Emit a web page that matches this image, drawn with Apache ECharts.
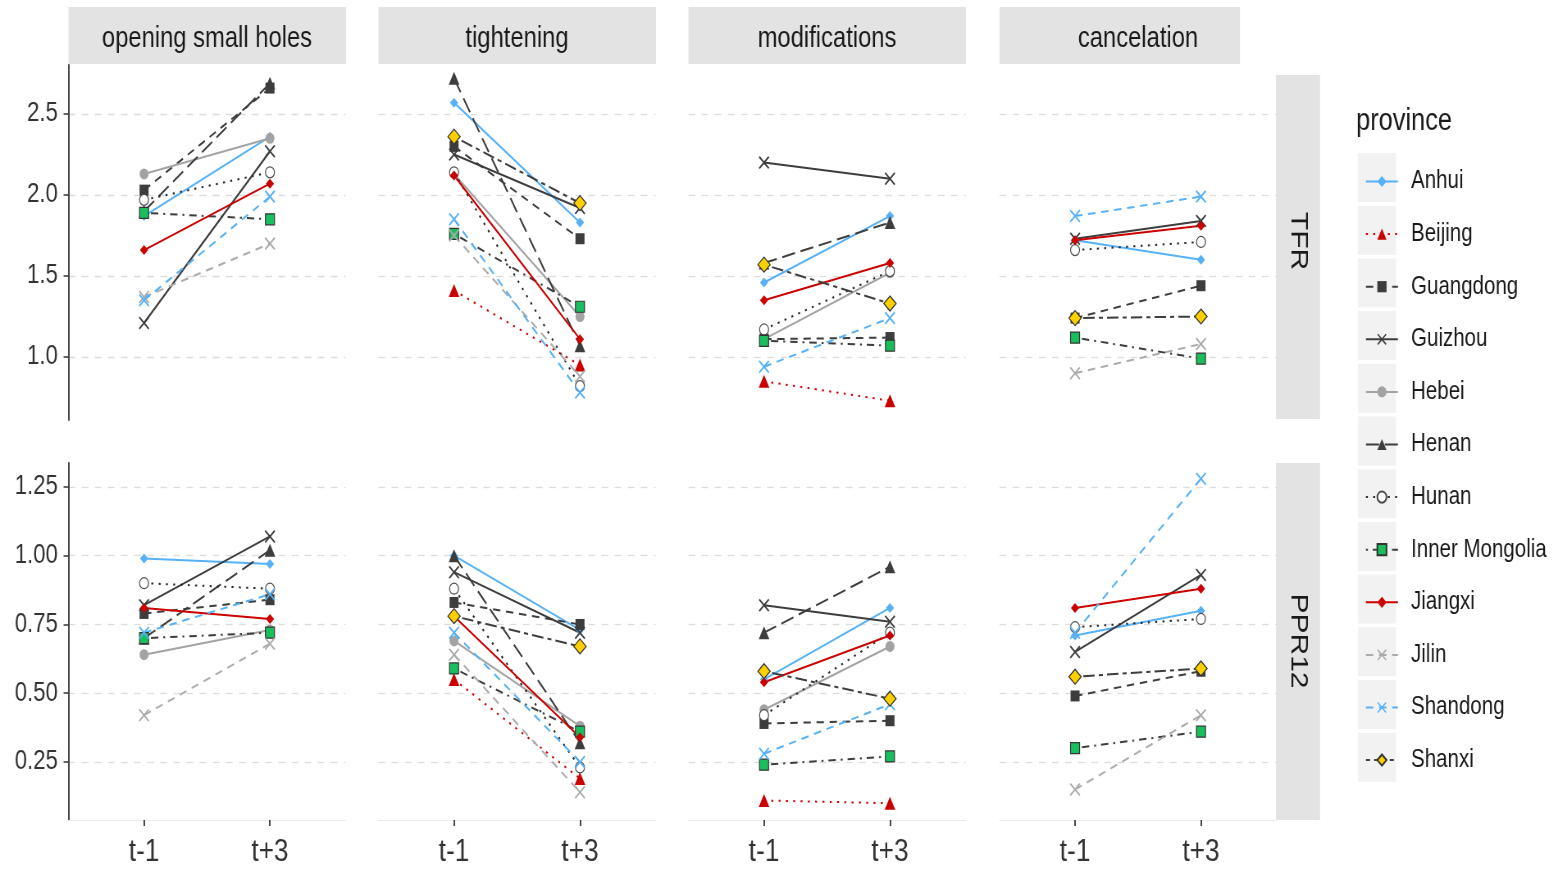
<!DOCTYPE html>
<html>
<head>
<meta charset="utf-8">
<script src="https://cdn.jsdelivr.net/npm/echarts@6/dist/echarts.min.js"></script>
<style>
  html, body { margin: 0; padding: 0; background: #ffffff; overflow: hidden; width: 1557px; height: 871px; }
  /* the figure is laid out wide and set in a horizontally condensed frame */
  #chart { height: 871px; transform-origin: 0 0; }
</style>
</head>
<body>
<div id="chart"></div>
<script>
// ---- categories ----
const provinces = ['Anhui', 'Beijing', 'Guangdong', 'Guizhou', 'Hebei', 'Henan',
  'Hunan', 'Inner Mongolia', 'Jiangxi', 'Jilin', 'Shandong', 'Shanxi'];
const policies = ['opening small holes', 'tightening', 'modifications', 'cancelation'];
const measures = ['TFR', 'PPR12'];
const periods = ['t-1', 't+3'];

// ---- tick labels ----
const tfrTicks = [1.0, 1.5, 2.0, 2.5];
const tfrTickLabels = ['1.0', '1.5', '2.0', '2.5'];
const pprTicks = [0.25, 0.5, 0.75, 1.0, 1.25];
const pprTickLabels = ['0.25', '0.50', '0.75', '1.00', '1.25'];

// ---- values [t-1, t+3] per province, in the order of `provinces` (null = not in group) ----
const tfrOpening = [[1.87, 2.36], null, [2.03, 2.66], [1.21, 2.27], [2.13, 2.35], [1.90, 2.69],
  [1.97, 2.14], [1.89, 1.85], [1.66, 2.07], [1.37, 1.70], [1.35, 1.99], null];
const tfrTightening = [[2.57, 1.83], [1.41, 0.95], [2.30, 1.73], [2.25, 1.92], [2.13, 1.25], [2.72, 1.07],
  [2.14, 0.82], [1.76, 1.31], [2.12, 1.11], [1.75, 0.88], [1.85, 0.78], [2.36, 1.95]];
const tfrModifications = [[1.46, 1.87], [0.85, 0.73], [1.11, 1.12], [2.20, 2.10], [1.11, 1.52], [1.58, 1.83],
  [1.17, 1.53], [1.10, 1.07], [1.35, 1.58], null, [0.94, 1.24], [1.57, 1.33]];
const tfrCancelation = [[1.72, 1.60], null, [1.24, 1.44], [1.73, 1.84], null, null,
  [1.66, 1.71], [1.12, 0.99], [1.72, 1.81], [0.90, 1.08], [1.87, 1.99], [1.24, 1.25]];

const pprOpening = [[0.99, 0.97], null, [0.79, 0.84], [0.82, 1.07], [0.64, 0.73], [0.70, 1.02],
  [0.90, 0.88], [0.70, 0.72], [0.81, 0.77], [0.42, 0.68], [0.72, 0.86], null];
const pprTightening = [[1.00, 0.73], [0.55, 0.19], [0.83, 0.75], [0.94, 0.72], [0.69, 0.38], [1.00, 0.32],
  [0.88, 0.23], [0.59, 0.36], [0.78, 0.34], [0.64, 0.14], [0.72, 0.25], [0.78, 0.67]];
const pprModifications = [[0.55, 0.81], [0.11, 0.10], [0.39, 0.40], [0.82, 0.76], [0.44, 0.67], [0.72, 0.96],
  [0.42, 0.72], [0.24, 0.27], [0.54, 0.71], null, [0.28, 0.46], [0.58, 0.48]];
const pprCancelation = [[0.71, 0.80], null, [0.49, 0.58], [0.65, 0.93], null, null,
  [0.74, 0.77], [0.30, 0.36], [0.81, 0.88], [0.15, 0.42], [0.72, 1.28], [0.56, 0.59]];

const panelValues = [
  [tfrOpening, tfrTightening, tfrModifications, tfrCancelation],
  [pprOpening, pprTightening, pprModifications, pprCancelation]
];

// ---- horizontal condensing of the whole figure ----
const S = 0.82;
const sx = x => x / S;
const el = document.getElementById('chart');
el.style.width = sx(1557) + 'px';
el.style.transform = 'scaleX(' + S + ')';

// ---- appearance ----
const FONT = "'Liberation Sans', Arial, sans-serif";
const DARK = '#3d3d3d';
const BLUE = '#56b1f7';
const RED = '#cc0000';
const CROSS = 'path://M0,1.2L1.2,0L6,4.8L10.8,0L12,1.2L7.2,6L12,10.8L10.8,12L6,7.2L1.2,12L0,10.8L4.8,6Z';

const DOTTED = [2.4, 6.5];
const DASHED = [9, 7];
const LONGDASH = [16, 7];
const DOTDASH = [2.4, 6, 9, 6];
const TWODASH = [5, 5, 14, 5];

const styleOf = {
  'Anhui':          { line: BLUE, type: 'solid', symbol: 'diamond', size: 10, fill: BLUE },
  'Beijing':        { line: RED, type: DOTTED, symbol: 'triangle', size: 13, fill: RED },
  'Guangdong':      { line: DARK, type: DASHED, symbol: 'rect', size: 11, fill: DARK },
  'Guizhou':        { line: DARK, type: 'solid', symbol: CROSS, size: 13, fill: DARK },
  'Hebei':          { line: '#a3a3a3', type: 'solid', symbol: 'circle', size: 11, fill: '#a3a3a3' },
  'Henan':          { line: DARK, type: LONGDASH, symbol: 'triangle', size: 13, fill: DARK },
  'Hunan':          { line: '#262626', type: DOTTED, symbol: 'circle', size: 11, fill: '#ffffff', border: '#4a4a4a' },
  'Inner Mongolia': { line: DARK, type: DOTDASH, symbol: 'rect', size: 11, fill: '#19bf5c', border: '#333333' },
  'Jiangxi':        { line: RED, type: 'solid', symbol: 'diamond', size: 10, fill: RED },
  'Jilin':          { line: '#ababab', type: DASHED, symbol: CROSS, size: 13, fill: '#ababab' },
  'Shandong':       { line: BLUE, type: DASHED, symbol: CROSS, size: 13, fill: BLUE },
  'Shanxi':         { line: DARK, type: TWODASH, symbol: 'diamond', size: 15, fill: '#ffd000', border: '#333333' }
};

// ---- layout of the facet grid (screen pixels, converted with sx) ----
const colLeft = [68.5, 378.5, 688.5, 999.5];
const colWidth = 277;
const rowTop = [65, 463];
const rowHeight = [355, 357];
const rowRange = [[0.611, 2.8025], [0.039, 1.337]];
const rowTicks = [tfrTicks, pprTicks];
const rowTickLabels = [tfrTickLabels, pprTickLabels];

const grids = [], xAxes = [], yAxes = [], series = [];

for (let r = 0; r < 2; r++) {
  for (let c = 0; c < 4; c++) {
    const idx = r * 4 + c;
    grids.push({ left: sx(colLeft[c]), top: rowTop[r], width: sx(colWidth), height: rowHeight[r],
      containLabel: false, outerBoundsMode: 'none' });

    const bottomRow = r === 1;
    xAxes.push({
      gridIndex: idx, type: 'value', min: 0.4, max: 2.6, show: true,
      axisLine: { show: bottomRow, onZero: false, lineStyle: { color: '#ebebeb', width: 1 } },
      axisTick: { show: bottomRow, customValues: [1, 2], length: 6, lineStyle: { color: '#333', width: 1.8 } },
      axisLabel: { show: bottomRow, customValues: [1, 2], margin: 16, fontSize: 32, color: '#333',
        fontFamily: FONT, formatter: v => periods[Math.round(v) - 1] },
      splitLine: { show: false }
    });

    const ticks = rowTicks[r], labels = rowTickLabels[r];
    const firstCol = c === 0;
    yAxes.push({
      gridIndex: idx, type: 'value', min: rowRange[r][0], max: rowRange[r][1],
      axisLine: { show: firstCol, lineStyle: { color: '#333', width: 1.8 } },
      axisTick: { show: firstCol, customValues: ticks, length: 6, lineStyle: { color: '#333', width: 1.5 } },
      axisLabel: { show: firstCol, customValues: ticks, margin: 13, fontSize: 27, color: '#333',
        fontFamily: FONT,
        formatter: v => { const k = ticks.findIndex(t => Math.abs(t - v) < 1e-6); return k >= 0 ? labels[k] : ''; } },
      splitLine: { show: true, lineStyle: { color: '#dcdcdc', width: 1.3, type: [8, 8] } }
    });

    const values = panelValues[r][c];
    provinces.forEach((name, p) => {
      const v = values[p];
      if (!v) return;
      const s = styleOf[name];
      series.push({
        type: 'line', name: name, xAxisIndex: idx, yAxisIndex: idx,
        data: [[1, v[0]], [2, v[1]]],
        symbol: s.symbol, symbolSize: s.size, showSymbol: true,
        lineStyle: { color: s.line, width: 2, type: s.type },
        itemStyle: { color: s.fill, borderColor: s.border || s.fill, borderWidth: s.border ? 1.2 : 0 },
        emphasis: { disabled: true },
        silent: true
      });
    });
  }
}

// ---- strips, legend keys and legend title ----
const graphics = [];
const stripTop = 7, stripH = 57;
const stripWidth = [277.5, 277.5, 277.5, 240.5];
policies.forEach((label, c) => {
  graphics.push({ type: 'rect', shape: { x: sx(colLeft[c]), y: stripTop, width: sx(stripWidth[c]), height: stripH },
    style: { fill: '#e3e3e3' }, silent: true });
  graphics.push({ type: 'text', x: sx(colLeft[c] + colWidth / 2), y: stripTop + stripH / 2 + 3,
    style: { text: label, fill: '#1a1a1a', font: '29px ' + FONT, align: 'center', verticalAlign: 'middle' },
    silent: true });
});
const sideStrips = [{ y: 75, h: 344, mid: 241 }, { y: 463, h: 357, mid: 641 }];
measures.forEach((label, r) => {
  const b = sideStrips[r];
  graphics.push({ type: 'rect', shape: { x: sx(1276), y: b.y, width: sx(44), height: b.h },
    style: { fill: '#e3e3e3' }, silent: true });
  graphics.push({ type: 'text', x: sx(1298), y: b.mid, rotation: -Math.PI / 2,
    style: { text: label, fill: '#1a1a1a', font: '30px ' + FONT, align: 'center', verticalAlign: 'middle' },
    silent: true });
});
graphics.push({ type: 'text', x: sx(1356), y: 121,
  style: { text: 'province', fill: '#1a1a1a', font: '31px ' + FONT, align: 'left', verticalAlign: 'middle' },
  silent: true });
provinces.forEach((name, i) => {
  graphics.push({ type: 'rect', shape: { x: sx(1358), y: 153 + i * 52.7, width: sx(38), height: 49 },
    style: { fill: '#f2f2f2' }, silent: true, z: -1 });
});

const chart = echarts.init(el, null, { renderer: 'canvas' });
chart.setOption({
  animation: false,
  backgroundColor: '#ffffff',
  grid: grids,
  xAxis: xAxes,
  yAxis: yAxes,
  series: series,
  legend: {
    orient: 'vertical', left: sx(1361), top: 164,
    itemWidth: sx(32), itemHeight: 14, itemGap: 27.6,
    data: provinces, selectedMode: false,
    textStyle: { fontSize: 25, color: '#1a1a1a', fontFamily: FONT, lineHeight: 24, padding: [0, 0, 0, 11] }
  },
  graphic: graphics
});
</script>
</body>
</html>
